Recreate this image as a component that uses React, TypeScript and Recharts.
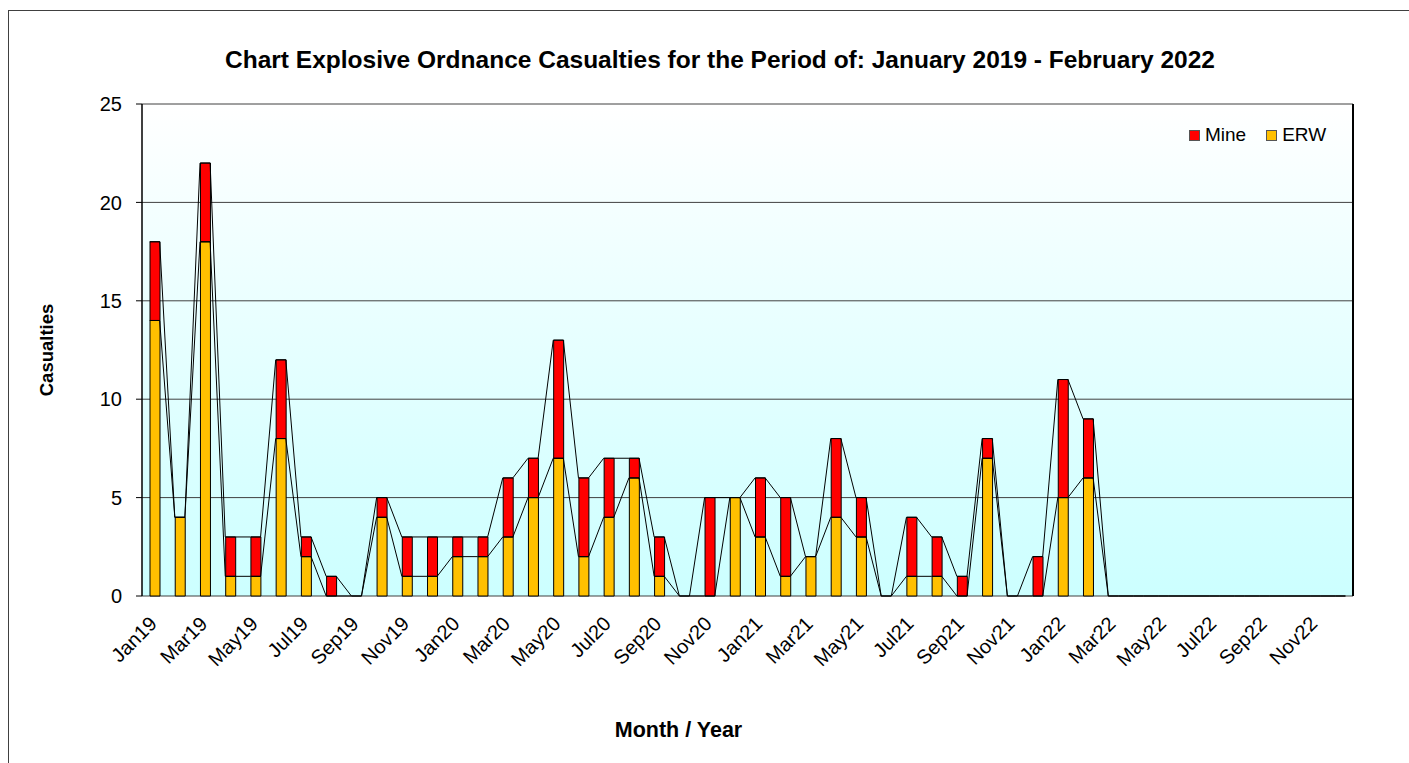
import React from "react";
import {
  ComposedChart,
  Bar,
  Line,
  XAxis,
  YAxis,
  CartesianGrid,
  Legend,
  ReferenceLine,
} from "recharts";

const months = [
  "Jan19", "Feb19", "Mar19", "Apr19", "May19", "Jun19", "Jul19", "Aug19", "Sep19", "Oct19", "Nov19", "Dec19",
  "Jan20", "Feb20", "Mar20", "Apr20", "May20", "Jun20", "Jul20", "Aug20", "Sep20", "Oct20", "Nov20", "Dec20",
  "Jan21", "Feb21", "Mar21", "Apr21", "May21", "Jun21", "Jul21", "Aug21", "Sep21", "Oct21", "Nov21", "Dec21",
  "Jan22", "Feb22", "Mar22", "Apr22", "May22", "Jun22", "Jul22", "Aug22", "Sep22", "Oct22", "Nov22", "Dec22",
];

const erw = [
  14, 4, 18, 1, 1, 8, 2, 0, 0, 4, 1, 1,
  2, 2, 3, 5, 7, 2, 4, 6, 1, 0, 0, 5,
  3, 1, 2, 4, 3, 0, 1, 1, 0, 7, 0, 0,
  5, 6, 0, 0, 0, 0, 0, 0, 0, 0, 0, 0,
];

const mine = [
  4, 0, 4, 2, 2, 4, 1, 1, 0, 1, 2, 2,
  1, 1, 3, 2, 6, 4, 3, 1, 2, 0, 5, 0,
  3, 4, 0, 4, 2, 0, 3, 2, 1, 1, 0, 2,
  6, 3, 0, 0, 0, 0, 0, 0, 0, 0, 0, 0,
];

const yTicks = [0, 5, 10, 15, 20, 25];

const ERW_COLOR = "#FFC000";
const MINE_COLOR = "#FF0000";
const FONT = "'Liberation Sans', Arial, sans-serif";

// half a bar, in category units, so the series lines meet the bar edges
const HALF_BAR = 0.2;

const rows = months.map((m, i) => ({ month: m, erw: erw[i], mine: mine[i] }));

// Excel-style series lines: a polyline over the left and right edge of every bar top
const seriesPts = months.flatMap((_, i) => [
  { x: i + 0.5 - HALF_BAR, erw: erw[i], total: erw[i] + mine[i] },
  { x: i + 0.5 + HALF_BAR, erw: erw[i], total: erw[i] + mine[i] },
]);

const boundaryTicks = months.map((_, i) => i).concat(months.length);

function MonthTick(props: any) {
  const { x, y, payload } = props;
  const ax = x + 3.5;
  const ay = y + 27;
  return (
    <text
      x={ax}
      y={ay}
      transform={`rotate(-45, ${ax}, ${ay})`}
      textAnchor="end"
      fontSize={20}
      fontFamily={FONT}
      fill="#000"
    >
      {payload.value}
    </text>
  );
}

function YTitle(props: any) {
  const { viewBox } = props;
  const cx = viewBox.x + 44;
  const cy = viewBox.y + viewBox.height / 2;
  return (
    <text
      x={cx}
      y={cy}
      transform={`rotate(-90, ${cx}, ${cy})`}
      textAnchor="middle"
      fontSize={18.5}
      fontWeight="bold"
      fontFamily={FONT}
      fill="#000"
    >
      Casualties
    </text>
  );
}

function XTitle(props: any) {
  const { viewBox } = props;
  return (
    <text
      x={viewBox.x + viewBox.width / 2 - 69}
      y={viewBox.y + 141}
      textAnchor="middle"
      fontSize={21.5}
      fontWeight="bold"
      fontFamily={FONT}
      fill="#000"
    >
      Month / Year
    </text>
  );
}

function LegendContent(props: any) {
  const items = (props.payload || [])
    .filter((it: any) => it.type !== "none" && (it.value === "Mine" || it.value === "ERW"))
    .reverse();
  return (
    <div style={{ display: "flex", gap: 20, fontFamily: FONT, fontSize: 19, lineHeight: "22px", whiteSpace: "nowrap" }}>
      {items.map((it: any) => (
        <div key={it.value} style={{ display: "flex", alignItems: "center", gap: 5 }}>
          <span
            style={{
              display: "inline-block",
              width: 9,
              height: 9,
              background: it.color,
              border: "1px solid #555",
            }}
          />
          <span>{it.value}</span>
        </div>
      ))}
    </div>
  );
}

export default function App() {
  return (
    <div
      style={{
        position: "fixed",
        left: 8,
        top: 10,
        width: 1401,
        height: 753,
        boxSizing: "border-box",
        borderLeft: "1px solid #404040",
        borderTop: "1px solid #404040",
        background: "#fff",
      }}
    >
      <ComposedChart
        width={1400}
        height={752}
        data={rows}
        margin={{ top: 93, right: 56, bottom: 0, left: 0 }}
      >
        <defs>
          <linearGradient id="plotBg" x1="0" y1="0" x2="0" y2="1">
            <stop offset="0%" stopColor="#FFFFFF" />
            <stop offset="100%" stopColor="#CCFFFF" />
          </linearGradient>
        </defs>
        <text
          x={711}
          y={57}
          textAnchor="middle"
          fontSize={24.5}
          fontWeight="bold"
          fontFamily={FONT}
          fill="#000"
        >
          Chart Explosive Ordnance Casualties for the Period of: January 2019 - February 2022
        </text>
        <CartesianGrid
          vertical={false}
          stroke="#404040"
          fill="url(#plotBg)"
          fillOpacity={1}
        />
        <XAxis
          xAxisId="num"
          type="number"
          dataKey="x"
          domain={[0, months.length]}
          ticks={boundaryTicks}
          interval={0}
          allowDataOverflow
          height={0}
          tickSize={7}
          tick={() => <g />}
          axisLine={{ stroke: "#000", strokeWidth: 2 }}
          tickLine={{ stroke: "#000" }}
        />
        <XAxis
          dataKey="month"
          interval={1}
          height={167}
          tickSize={0}
          tickLine={false}
          axisLine={false}
          tick={<MonthTick />}
          label={<XTitle />}
        />
        <YAxis
          domain={[0, 25]}
          ticks={yTicks}
          width={133}
          tickSize={6}
          tickMargin={14}
          tick={{ fontSize: 20, fontFamily: FONT, fill: "#000" }}
          axisLine={{ stroke: "#000", strokeWidth: 1.5 }}
          tickLine={{ stroke: "#000" }}
          label={<YTitle />}
        />
        <ReferenceLine xAxisId="num" x={months.length} stroke="#000" strokeWidth={2} />
        <Legend
          layout="vertical"
          align="center"
          verticalAlign="middle"
          wrapperStyle={{ top: 113, left: 1180, width: "auto" }}
          content={<LegendContent />}
        />
        <Line
          xAxisId="num"
          data={seriesPts}
          dataKey="erw"
          type="linear"
          stroke="#000"
          strokeWidth={1}
          dot={false}
          legendType="none"
          isAnimationActive={false}
        />
        <Line
          xAxisId="num"
          data={seriesPts}
          dataKey="total"
          type="linear"
          stroke="#000"
          strokeWidth={1}
          dot={false}
          legendType="none"
          isAnimationActive={false}
        />
        <Bar
          dataKey="erw"
          name="ERW"
          stackId="a"
          fill={ERW_COLOR}
          stroke="#000"
          strokeWidth={1}
          barSize={10}
          isAnimationActive={false}
        />
        <Bar
          dataKey="mine"
          name="Mine"
          stackId="a"
          fill={MINE_COLOR}
          stroke="#000"
          strokeWidth={1}
          barSize={10}
          isAnimationActive={false}
        />
      </ComposedChart>
    </div>
  );
}
